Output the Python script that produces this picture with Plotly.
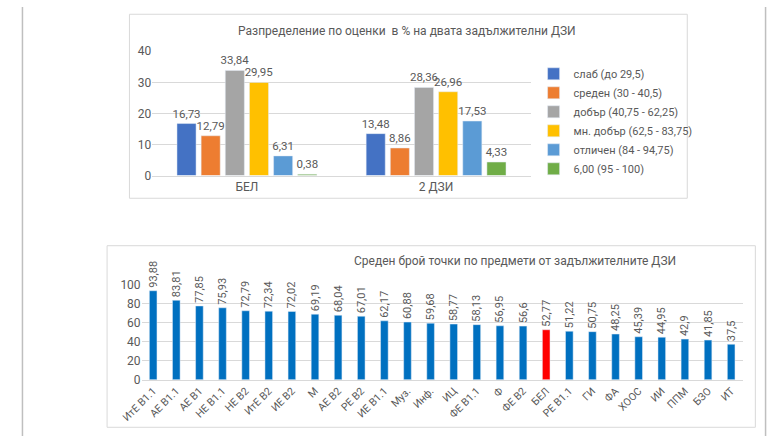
import plotly.graph_objects as go

W, H = 768, 443

# ---------- data: top chart ----------
top_categories = ["БЕЛ", "2 ДЗИ"]
top_series = ["слаб (до 29,5)", "среден (30 - 40,5)", "добър (40,75 - 62,25)",
              "мн. добър (62,5 - 83,75)", "отличен (84 - 94,75)", "6,00 (95 - 100)"]
top_values = [
    [16.73, 13.48],
    [12.79, 8.86],
    [33.84, 28.36],
    [29.95, 26.96],
    [6.31, 17.53],
    [0.38, 4.33],
]
top_colors = ["#4472C4", "#ED7D31", "#A5A5A5", "#FFC000", "#5B9BD5", "#70AD47"]
top_title = "Разпределение по оценки  в % на двата задължителни ДЗИ"

# ---------- data: bottom chart ----------
subjects = ["ИтЕ В1.1", "АЕ В1.1", "АЕ В1", "НЕ В1.1", "НЕ В2", "ИтЕ В2", "ИЕ В2", "М",
            "АЕ В2", "РЕ В2", "ИЕ В1.1", "Муз.", "Инф.", "ИЦ", "ФЕ В1.1", "Ф", "ФЕ В2",
            "БЕЛ", "РЕ В1.1", "ГИ", "ФА", "ХООС", "ИИ", "ППМ", "БЗО", "ИТ"]
scores = [93.88, 83.81, 77.85, 75.93, 72.79, 72.34, 72.02, 69.19, 68.04, 67.01, 62.17,
          60.88, 59.68, 58.77, 58.13, 56.95, 56.6, 52.77, 51.22, 50.75, 48.25, 45.39,
          44.95, 42.9, 41.85, 37.5]
highlight = "БЕЛ"
bottom_title = "Среден брой точки по предмети от задължителните ДЗИ"

FONT = "Roboto, Liberation Sans, sans-serif"
GRAY = "#595959"


def fmt(v):
    s = f"{v:.2f}".rstrip("0").rstrip(".")
    return s.replace(".", ",")


def px(x):
    return x / W


def py(y):
    return 1 - y / H


fig = go.Figure()

for name, vals, col in zip(top_series, top_values, top_colors):
    fig.add_trace(go.Bar(
        x=top_categories, y=vals, name=name, marker_color=col,
        text=[fmt(v) for v in vals], textposition="outside",
        textfont=dict(family=FONT, size=11.5, color=GRAY),
        cliponaxis=False, constraintext="none",
        xaxis="x", yaxis="y", offsetgroup=name,
    ))

fig.add_trace(go.Bar(
    x=subjects, y=scores, showlegend=False,
    marker_color=["#FF0000" if s == highlight else "#0070C0" for s in subjects],
    text=[fmt(v) for v in scores], textposition="outside", textangle=-90,
    textfont=dict(family=FONT, size=11, color=GRAY),
    cliponaxis=False, constraintext="none",
    xaxis="x2", yaxis="y2", width=0.33,
))

shapes = []
# panel borders
for (x0, y0, x1, y1) in [(111.5, 7.5, 685, 197.5), (88.5, 246.5, 755, 434)]:
    shapes.append(dict(type="rect", xref="paper", yref="paper",
                       x0=px(x0), x1=px(x1), y0=py(y1), y1=py(y0),
                       line=dict(color="#D9D9D9", width=1), fillcolor="rgba(0,0,0,0)",
                       layer="below"))
# page edges
for x in (1.5, 765.5):
    shapes.append(dict(type="line", xref="paper", yref="paper",
                       x0=px(x), x1=px(x), y0=0, y1=1,
                       line=dict(color="#BFBFBF", width=1.5)))

fig.update_layout(
    width=W, height=H,
    margin=dict(l=0, r=0, t=0, b=0),
    paper_bgcolor="white", plot_bgcolor="white",
    font=dict(family=FONT, size=12, color=GRAY),
    barmode="group", bargap=0.234, bargroupgap=0.21,
    shapes=shapes,
    showlegend=True,
    legend=dict(x=px(527), y=py(54), xanchor="left", yanchor="top",
                font=dict(family=FONT, size=11, color=GRAY),
                itemwidth=30, tracegroupgap=3, bgcolor="rgba(0,0,0,0)"),
    xaxis=dict(domain=[px(135), px(524)], anchor="y", showgrid=False,
               showline=True, linecolor="#D9D9D9", ticks="",
               tickfont=dict(family=FONT, size=12, color=GRAY)),
    yaxis=dict(domain=[py(174), py(45.7)], anchor="x", range=[0, 40], dtick=10,
               showgrid=True, gridcolor="#D9D9D9", zeroline=False, showline=False,
               ticks="", tickfont=dict(family=FONT, size=12, color=GRAY)),
    xaxis2=dict(domain=[px(124), px(742)], anchor="y2", showgrid=False,
                showline=True, linecolor="#D9D9D9", ticks="", tickangle=-45,
                tickfont=dict(family=FONT, size=10.5, color=GRAY)),
    yaxis2=dict(domain=[py(385), py(287)], anchor="x2", range=[0, 100], dtick=20,
                showgrid=True, gridcolor="#D9D9D9", zeroline=False, showline=False,
                ticks="", tickfont=dict(family=FONT, size=12, color=GRAY)),
    annotations=[
        dict(text=top_title, x=px(397), y=py(25), xref="paper", yref="paper",
             xanchor="center", yanchor="middle",
             showarrow=False, font=dict(family=FONT, size=12, color=GRAY)),
        dict(text=bottom_title, x=px(508), y=py(262), xref="paper", yref="paper",
             xanchor="center", yanchor="middle",
             showarrow=False, font=dict(family=FONT, size=12, color=GRAY)),
    ],
)

fig.write_html("out.html", config={"displayModeBar": False},
               post_script="document.body.style.margin='0';")
